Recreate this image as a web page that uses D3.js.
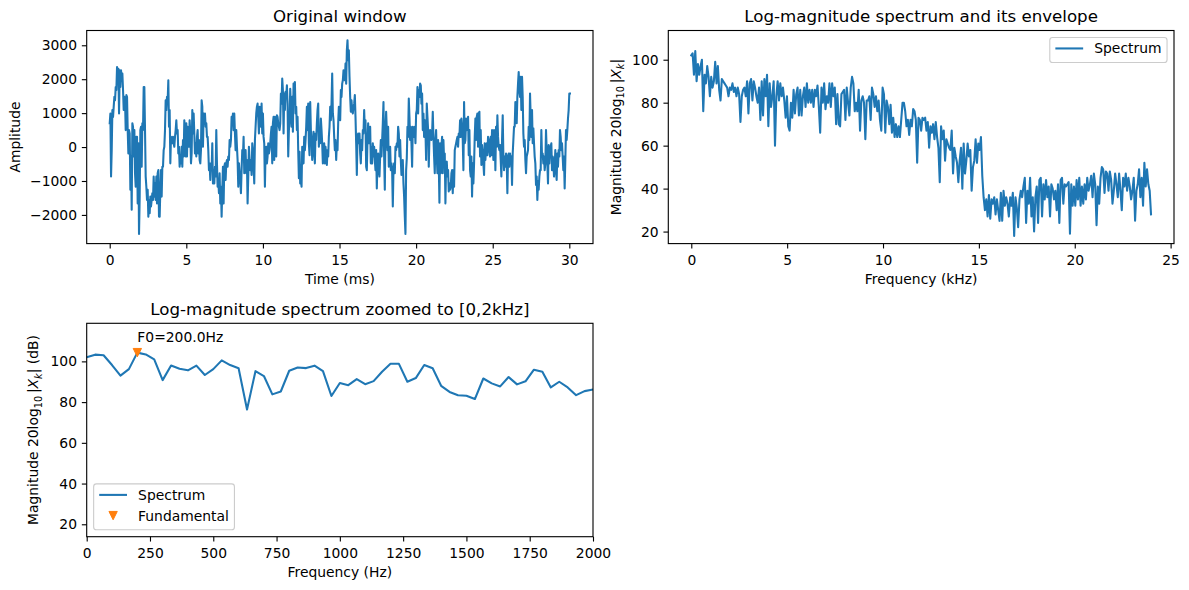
<!DOCTYPE html>
<html>
<head>
<meta charset="utf-8">
<script src="https://cdn.jsdelivr.net/npm/d3@7"></script>
<style>
	body { margin: 0; background: #fff; }
	svg { display: block; }
</style>
</head>
<body>
<div id="figure"></div>
<script>
// ---- data ----
// time-domain window, one reading every 1/23 ms
const TIME_STEP_MS = 1 / 23;
const windowAmplitude = [
	700, 990, -870, -90, 1090, 890, 1190, 1480, 1380, 1770,
	1680, 2360, 2070, 2310, 990, 2260, 1770, 2260, 1970, 2170,
	1680, 1090, 1480, 1380, 500, 1530, 1480, 500, -190, 500,
	400, -1260, -280, -1850, 700, 600, -280, 500, -770, -1170,
	300, 300, -1660, 110, -2560, -1460, 500, 600, -580, 700,
	500, 1770, 1770, 500, -870, -1170, -1560, -1260, -2050, -1560,
	-1950, -1460, -1750, -1560, -1360, -1560, -870, -1460, -1070, -1560,
	-870, -1660, -770, -680, -2050, -2050, -1260, -680, -1460, -580,
	-580, -90, 10, 500, 1380, 1090, 1480, 1380, 1970, 600,
	1090, -480, 300, 110, 110, 300, 110, 10, 300, 500,
	790, 400, 500, -190, 10, -580, -280, -480, 10, -580,
	210, -280, 790, 400, -280, 700, -280, 600, 500, 10,
	790, 400, -480, -190, 1090, 400, 990, 400, -190, 110,
	-280, 300, 500, -190, 210, -380, -480, -90, 1380, 1190,
	10, 990, 890, 990, 600, 700, 300, 300, -90, -680,
	-480, -970, -480, -680, 110, -1070, -680, -1070, -580, -870,
	500, -480, -1170, -970, -1360, -770, -1660, -1170, -2050, -1260,
	-580, -1660, -580, -480, -970, -480, -380, -580, -280, -380,
	210, 10, 210, 890, 700, 990, 500, 990, 400, -90,
	500, 10, -380, -1170, -480, -770, -970, -1360, -680, -90,
	-280, 300, -770, -580, -90, -770, -380, -1660, -870, 10,
	-380, -680, -380, -820, 110, -90, -580, -1070, 210, 600,
	990, 1190, 1280, 890, 400, 1190, 1090, 600, 1280, 400,
	990, 300, 110, -1170, -90, 10, -480, -280, 110, -190,
	-90,
	110, 400, 600, -480, 700, 890, -380, 890, 500, -280,
	940, 890, 700, 600, 500, 700, 1580, 1280, 2020, 1680,
	400, 1580, 1090, 1630, 1480, 1820, 1280, -280, 500, 790,
	1720, 1190, 600, 1480, 450, 1870, 1580, 1920, 990, 1190,
	500, 890, -90, -920, -140, -1070, -970, -1170, 10, -480,
	-480, 300, -90, 210, 600, 1190, 500, 1280, 110, -240,
	1330, 500, 210, -380, -90, 450, -40, -480, 400, 210,
	700, 1090, 1280, 10, 500, 110, 840, 500, 110, -480,
	-280, 110, -480, 10, -280, -530, -90, -280, 300, 600,
	1190, 790, 1280, 2170, 990, 790, 300, -90, 210, -380,
	110, -90, 700, 1190, 990, 790, 1680, 1480, 1870, 1970,
	2260, 2070, 1970, 2460, 1870, 2850, 3150, 2560, 2850, 2070,
	1480, 1040, 1380, 1090, 990, 1190, 1280, 1530, 890, 110,
	-820, 300, 400, 110, 400, -190, -480, 210, -90, 500,
	400, 1090, 500, 790, -580, -680, 210, 700, 110, 500,
	600, -480, 10, -480, 110, -280, 10, -380, -680, -90,
	-1220, -380, -190, -680, -870, -280, 210, -280, 210, 700,
	1330, -280, -1260, 500, 1040, 500, -90, 600, -580, -480,
	10, -680, -480, -680, -1750, -680, -480, -770, 10, -90,
	110, 10, 600, 400, -280, 210, -380, -820, -680, -380,
	-1070, -1460, -2050, -2560, -680, -330, 600, 300, 1430, 890,
	210, 600, 110, -580, 600, 500, 300, 600, 110, 990,
	1090, 1770, 990, 1680, 1480, 1870, 1820, 1280, 1580, 500,
	990, 300, 790,
	500, -380, 1280, 890, 500, -580, 300, 500, 300, 210,
	400, 1040, 300, -280, -770, 210, 500, -280, -770, 210,
	-480, -1640, 110, -770, 10, 300, -770, 210, -380, -190,
	-1660, -480, -430, -870, -680, -1310, -1070, -1260, -1170, -770,
	-680, -1360, -680, -1170, -90, 10, 110, 210, 300, 10,
	400, 300, 790, 300, 840, 600, 210, -680, 1330, 110,
	210, 840, 500, 600, 890, -240, 500, -680, -870, -280,
	-1460, -480, -1070, -480, 300, 840, 210, 890, 990, 10,
	990, 1040, -280, 500, -530, 60, -140, -480, -820, 110,
	-380, 10, 110, -240, 300, 210, -90, -280, 300, -240,
	500, 160, -380, 500, 400, -680, 600, 10, 940, 300,
	10, -90, 60, -380, -870, 210, 940, -280, -680, -280,
	-580, -190, -380, -1360, -280, -190, -580, -190, -480, -280,
	-1120, -190, 210, 600, 600, 1330, 1230, 700, 1480, 1870,
	2210, 1680, 1480, 2070, 1090, 2070, 1480, 400, 10, 210,
	-380, -770, -280, -190, -90, 600, 210, 1580, 890, 300,
	1090, 110, 550, 110, -280, -480, -1120, -870, -1560, -1020,
	-1260, -870, -680, -680, 500, -280, -190, -480, -280, -680,
	-480, 500, -90, -480, -1070, 60, -480, -90, 10, 110,
	-680, -280, -380, -870, -580, -90, -680, -970, -190, -580,
	-90, -280, 500, 300, -90, 110, -280, -680, -280, -1220,
	-380, 500, 210, 500, 840, 1090, 1580, 1580
];

// full-band log spectrum (dB), one reading every 0.0693 kHz
const FREQ_STEP_KHZ = 0.0693;
const spectrumDb = [
	102, 103, 93, 104, 90, 98, 93, 97, 100, 76,
	93, 89, 97, 92, 83, 92, 87, 90, 99, 89,
	97, 86, 81, 91, 90, 89, 88, 87, 83, 87,
	86, 89, 85, 87, 83, 87, 84, 71, 83, 86,
	87, 83, 90, 75, 89, 91, 81, 90, 87, 83,
	80, 87, 72, 90, 74, 91, 83, 93, 69, 89,
	78, 83, 90, 60, 83, 90, 81, 89, 83, 87,
	81, 73, 83, 69, 67, 80, 73, 86, 75, 84,
	87, 74, 86, 74, 83, 87, 78, 89, 80, 86,
	80, 86, 78, 86, 83, 88, 78, 66, 87, 80,
	89, 77, 83, 80, 89, 78,
	89, 83, 87, 70, 84, 70, 69, 84, 85, 86,
	72, 87, 80, 74, 87, 92, 89, 76, 80, 76,
	86, 67, 81, 83, 80, 63, 81, 81, 83, 72,
	87, 84, 78, 83, 76, 81, 72, 67, 87, 84,
	66, 81, 78, 70, 79, 66, 73, 64, 70, 64,
	69, 64, 72, 80, 80, 76, 69, 72, 65, 72,
	69, 77, 76, 72, 52, 73, 72, 67, 73, 72,
	73, 67, 71, 59, 69, 66, 70, 63, 71, 64,
	59, 43, 69, 63, 67, 53, 63, 61, 59, 58,
	67, 47, 59, 55, 52, 43, 53, 59, 40, 61,
	47, 53, 61, 55, 58, 39, 50, 53, 63, 52,
	61, 58, 64, 46, 36, 30, 35, 27, 37, 26,
	35, 33, 36, 28, 35, 30, 25,
	38, 25, 39, 32, 36, 33, 27, 36, 32, 38,
	18, 36, 31, 22, 35, 39, 36, 41, 45, 24,
	39, 33, 45, 27, 36, 20, 36, 41, 24, 44,
	45, 27, 42, 35, 44, 36, 41, 27, 42, 40,
	35, 39, 30, 42, 24, 44, 45, 33, 42, 41,
	42, 43, 19, 42, 32, 41, 32, 44, 35, 45,
	32, 41, 33, 42, 35, 45, 39, 42, 46, 36,
	47, 42, 23, 41, 33, 45, 50, 49, 38, 48,
	47, 39, 48, 44, 33, 39, 47, 42, 36, 47,
	39, 30, 45, 41, 47, 39, 45, 41, 35, 39,
	45, 25, 39, 42, 49, 36, 45, 32, 52, 41,
	49, 42, 39, 28
];

// 0-2 kHz bins of the same spectrum, 1000/30 Hz apart
const BIN_HZ = 1000 / 30;
const lowBandDb = [
	102.0, 103.3, 103.0, 98.2, 93.0, 96.2, 104.3, 103.4, 101.0, 90.8,
	98.0, 96.4, 95.6, 97.9, 93.3, 96.2, 100.5, 98.2, 96.6, 76.4,
	95.2, 92.8, 83.8, 85.2, 95.4, 97.0, 96.7, 97.9, 95.2, 83.0,
	89.4, 88.3, 91.3, 88.8, 90.3, 94.9, 98.8, 98.8, 90.0, 91.8,
	98.2, 96.6, 88.0, 85.0, 83.4, 83.1, 81.5, 91.6, 89.2, 87.7,
	92.3, 88.7, 90.2, 95.9, 94.9, 87.2, 90.0, 87.2, 83.4, 85.4,
	86.2
];
const F0_HZ = 200;

const timeTicks = [0, 5, 10, 15, 20, 25, 30];
const amplitudeTicks = [-2000, -1000, 0, 1000, 2000, 3000];
const khzTicks = [0, 5, 10, 15, 20, 25];
const dbTicks = [20, 40, 60, 80, 100];
const hzTicks = [0, 250, 500, 750, 1000, 1250, 1500, 1750, 2000];
const SPEC_DB_LIMITS = [14.4, 113.6];
const ZOOM_DB_LIMITS = [13.9, 118.7];

// ---- look ----
const FONT = "'DejaVu Sans', sans-serif";
const LABEL_PX = 13.89;
const TITLE_PX = 16.67;
const TICK_LEN = 4.86;
const BLUE = "#1f77b4";
const ORANGE = "#ff7f0e";
const W = 1189, H = 590;

const padded = ([lo, hi], frac = 0.05) => {
	const span = hi - lo;
	return [lo - span * frac, hi + span * frac];
};

class Panel {
	constructor(root, id, box) {
		this.box = box;
		this.g = root.append("g").attr("class", id);
		this.g.append("clipPath").attr("id", id + "-clip")
			.append("rect")
			.attr("x", box.left).attr("y", box.top)
			.attr("width", box.right - box.left)
			.attr("height", box.bottom - box.top);
		this.plot = this.g.append("g").attr("clip-path", `url(#${id}-clip)`);
	}

	setScales(xDomain, yDomain) {
		this.x = d3.scaleLinear().domain(xDomain).range([this.box.left, this.box.right]);
		this.y = d3.scaleLinear().domain(yDomain).range([this.box.bottom, this.box.top]);
		return this;
	}

	drawLine(xs, ys) {
		const line = d3.line().x((d) => this.x(d[0])).y((d) => this.y(d[1]));
		this.plot.append("path")
			.datum(d3.zip(xs, ys))
			.attr("d", line)
			.attr("fill", "none")
			.attr("stroke", BLUE)
			.attr("stroke-width", 2.08)
			.attr("stroke-linejoin", "round")
			.attr("stroke-linecap", "square");
	}

	drawAxes(xTicks, yTicks) {
		const fmt = d3.format("d");
		const gx = this.g.append("g")
			.attr("transform", `translate(0,${this.box.bottom})`)
			.call(d3.axisBottom(this.x).tickValues(xTicks).tickFormat(fmt)
				.tickSize(TICK_LEN).tickPadding(6.3));
		const gy = this.g.append("g")
			.attr("transform", `translate(${this.box.left},0)`)
			.call(d3.axisLeft(this.y).tickValues(yTicks).tickFormat(fmt)
				.tickSize(TICK_LEN).tickPadding(4.86));
		[gx, gy].forEach((ax) => {
			ax.attr("font-family", FONT).attr("font-size", LABEL_PX);
			ax.select(".domain").remove();
			ax.selectAll(".tick line").attr("stroke", "#000").attr("stroke-width", 1.11);
			ax.selectAll(".tick text").attr("fill", "#000");
		});
		this.g.append("rect")
			.attr("x", this.box.left).attr("y", this.box.top)
			.attr("width", this.box.right - this.box.left)
			.attr("height", this.box.bottom - this.box.top)
			.attr("fill", "none")
			.attr("stroke", "#000")
			.attr("stroke-width", 1.11);
	}

	setTitle(text) {
		this.g.append("text")
			.attr("x", (this.box.left + this.box.right) / 2)
			.attr("y", this.box.top - 8.33)
			.attr("text-anchor", "middle")
			.attr("font-family", FONT)
			.attr("font-size", TITLE_PX)
			.text(text);
	}

	setXLabel(text) {
		this.g.append("text")
			.attr("x", (this.box.left + this.box.right) / 2)
			.attr("y", this.box.bottom + 40.6)
			.attr("text-anchor", "middle")
			.attr("font-family", FONT)
			.attr("font-size", LABEL_PX)
			.text(text);
	}

	// parts: [{text, sub, italic}] so the mathtext subscripts can be drawn
	setYLabel(parts, gap) {
		const cy = (this.box.top + this.box.bottom) / 2;
		const label = this.g.append("text")
			.attr("transform", `translate(${this.box.left - gap},${cy}) rotate(-90)`)
			.attr("text-anchor", "middle")
			.attr("font-family", FONT)
			.attr("font-size", LABEL_PX);
		let down = false;
		parts.forEach((p) => {
			const ts = label.append("tspan").text(p.text);
			if (p.sub) {
				ts.attr("font-size", LABEL_PX * 0.7);
				if (!down) ts.attr("dy", 3.2);
				down = true;
			} else if (down) {
				ts.attr("dy", -3.2);
				down = false;
			}
			if (p.italic) ts.attr("font-style", "italic");
		});
	}

	addLegend(entries, corner) {
		const pad = 5.56, handle = 27.8, gap = 11.1, edge = 6.95, row = 20.7;
		const lg = this.g.append("g");
		const frame = lg.append("rect");
		const height = 2 * pad + entries.length * LABEL_PX + (entries.length - 1) * 6.95;
		const labels = entries.map((e) => lg.append("text")
			.attr("font-family", FONT)
			.attr("font-size", LABEL_PX)
			.text(e.label));
		const textW = d3.max(labels, (t) => t.node().getComputedTextLength());
		const width = pad + handle + gap + textW + pad;
		const left = corner === "upper right" ? this.box.right - edge - width : this.box.left + edge;
		const top = corner === "upper right" ? this.box.top + edge : this.box.bottom - edge - height;
		frame.attr("x", left).attr("y", top)
			.attr("width", width).attr("height", height)
			.attr("rx", 2.8).attr("ry", 2.8)
			.attr("fill", "#fff").attr("fill-opacity", 0.8)
			.attr("stroke", "#cccccc").attr("stroke-width", 1.11);
		entries.forEach((e, i) => {
			const cy = top + 11 + i * row;
			labels[i].attr("x", left + pad + handle + gap).attr("y", cy + 5);
			if (e.kind === "line") {
				lg.append("line")
					.attr("x1", left + pad).attr("x2", left + pad + handle)
					.attr("y1", cy).attr("y2", cy)
					.attr("stroke", BLUE).attr("stroke-width", 2.08);
			} else {
				lg.append("path")
					.attr("d", triangleDown)
					.attr("transform", `translate(${left + pad + handle / 2},${cy})`)
					.attr("fill", ORANGE).attr("stroke", ORANGE).attr("stroke-width", 1);
			}
		});
	}
}

// matplotlib 'v' marker, markersize 6pt
const MARKER_HALF = 4.17;
const triangleDown = d3.line()([[-MARKER_HALF, -MARKER_HALF], [MARKER_HALF, -MARKER_HALF], [0, MARKER_HALF]]) + "Z";

const svg = d3.select("#figure").append("svg")
	.attr("width", W).attr("height", H)
	.attr("viewBox", `0 0 ${W} ${H}`);
svg.append("rect").attr("width", W).attr("height", H).attr("fill", "#fff");

const magnitudeLabel = [
	{ text: "Magnitude 20log" },
	{ text: "10", sub: true },
	{ text: "\u2009|" },
	{ text: "X", italic: true },
	{ text: "k", sub: true, italic: true },
	{ text: "|" },
];

// original window
const timeMs = windowAmplitude.map((_, i) => i * TIME_STEP_MS);
const wave = new Panel(svg, "wave", { left: 86.7, right: 593, top: 30.5, bottom: 243.6 })
	.setScales(padded(d3.extent(timeMs)), padded(d3.extent(windowAmplitude)));
wave.drawLine(timeMs, windowAmplitude);
wave.drawAxes(timeTicks, amplitudeTicks);
wave.setTitle("Original window");
wave.setXLabel("Time (ms)");
wave.setYLabel([{ text: "Amplitude" }], 66.5);

// full spectrum
const freqKhz = spectrumDb.map((_, i) => i * FREQ_STEP_KHZ);
const spec = new Panel(svg, "spec", { left: 668.3, right: 1174, top: 30.5, bottom: 243.6 })
	.setScales(padded(d3.extent(freqKhz)), SPEC_DB_LIMITS);
spec.drawLine(freqKhz, spectrumDb);
spec.drawAxes(khzTicks, dbTicks);
spec.setTitle("Log-magnitude spectrum and its envelope");
spec.setXLabel("Frequency (kHz)");
spec.setYLabel(magnitudeLabel, 47.8);
spec.addLegend([{ label: "Spectrum", kind: "line" }], "upper right");

// zoom to 0-2 kHz with the fundamental
const freqHz = lowBandDb.map((_, i) => i * BIN_HZ);
const f0Db = lowBandDb[Math.round(F0_HZ / BIN_HZ)];
const zoom = new Panel(svg, "zoom", { left: 86.7, right: 593, top: 323.3, bottom: 536.7 })
	.setScales([0, 2000], ZOOM_DB_LIMITS);
zoom.drawLine(freqHz, lowBandDb);
zoom.plot.append("path")
	.attr("d", triangleDown)
	.attr("transform", `translate(${zoom.x(F0_HZ)},${zoom.y(f0Db)})`)
	.attr("fill", ORANGE).attr("stroke", ORANGE).attr("stroke-width", 1);
zoom.g.append("text")
	.attr("x", zoom.x(F0_HZ))
	.attr("y", zoom.y(f0Db + 5))
	.attr("font-family", FONT)
	.attr("font-size", LABEL_PX)
	.text(`F0=${F0_HZ.toFixed(1)}Hz`);
zoom.drawAxes(hzTicks, dbTicks);
zoom.setTitle("Log-magnitude spectrum zoomed to [0,2kHz]");
zoom.setXLabel("Frequency (Hz)");
zoom.setYLabel(magnitudeLabel.concat([{ text: " (dB)" }]), 48.4);
zoom.addLegend([
	{ label: "Spectrum", kind: "line" },
	{ label: "Fundamental", kind: "marker" },
], "lower left");
</script>
</body>
</html>
